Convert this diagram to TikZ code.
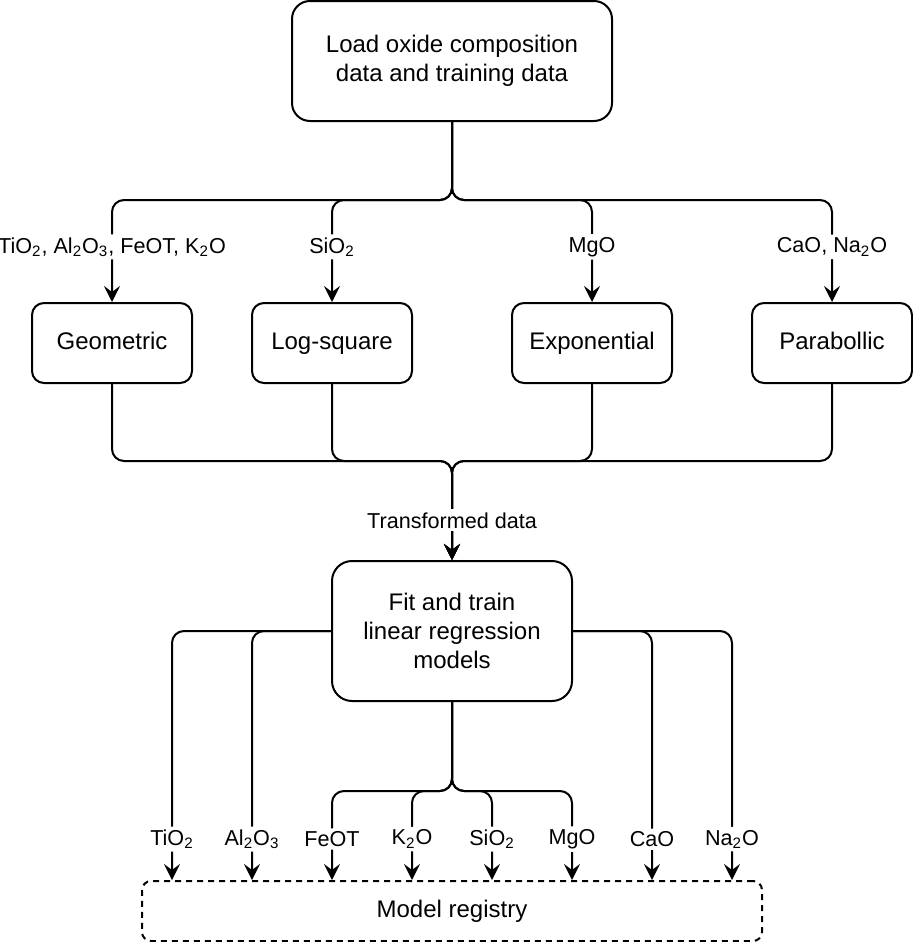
\documentclass[tikz,border=0pt]{standalone}
\usepackage{fontspec}
\setmainfont{Liberation Sans}
\usetikzlibrary{arrows.meta, positioning}

\begin{document}
\begin{tikzpicture}[x=0.5pt, y=-0.5pt, line width=1pt,
        basic/.style    = {draw, align=center, inner sep=0pt, font=\fontsize{12}{14.5}\selectfont},
        root/.style     = {basic, minimum width=160pt, minimum height=60pt, rounded corners=9pt},
        method/.style   = {basic, minimum width=80pt, minimum height=40pt, rounded corners=6pt,
                           text height=8.6pt, text depth=2.6pt},
        fitbox/.style   = {basic, minimum width=120pt, minimum height=70pt, rounded corners=10pt},
        registry/.style = {basic, minimum width=310pt, minimum height=30pt, rounded corners=4.5pt,
                           dash pattern=on 3pt off 2.5pt, text height=8.6pt, text depth=2.6pt},
        oxide/.style    = {fill=white, inner sep=1.5pt, font=\fontsize{10.8}{12.8}\selectfont},
        flow/.style     = {draw, ->, rounded corners=6pt},
        >={Stealth[length=8pt, width=8pt, inset=3pt]}]

    \useasboundingbox (0,0) rectangle (913,942);

    % input data
    \node[root] (load) at (452,61) {Load oxide composition \\ data and training data};

    % the transformations, relatively positioned
    \node[method, below=90pt of load.south, xshift=-170pt] (geo)   {Geometric};
    \node[method, below=90pt of load.south, xshift=-60pt]  (logsq) {Log-square};
    \node[method, below=90pt of load.south, xshift=70pt]   (expo)  {Exponential};
    \node[method, below=90pt of load.south, xshift=190pt]  (para)  {Parabollic};

    % fitting and registry
    \node[fitbox] (fit) at (452,631) {Fit and train \\ linear regression \\ models};
    \node[registry] (reg) at (452,911) {Model registry};

    \coordinate (split1) at (452,200);
    \coordinate (merge)  at (452,461);
    \coordinate (split2) at (452,791);

    % oxides to each transformation
    \foreach \m/\ox in {geo/{TiO\textsubscript{2}, Al\textsubscript{2}O\textsubscript{3}, FeOT, K\textsubscript{2}O},
                        logsq/SiO\textsubscript{2}, expo/MgO, para/{CaO, Na\textsubscript{2}O}}
        \draw[flow] (load.south) -- (split1) -| node[oxide, pos=0.73] {\ox} (\m.north);

    % transformed data into the fit
    \foreach \m in {geo,logsq,expo,para}
        \draw[flow] (\m.south) |- (merge) -- (fit.north);
    \path (merge) -- node[oxide, pos=0.6] {Transformed data} (fit.north);

    % models into the registry
    \foreach \dx/\ox in {-140/TiO\textsubscript{2}, -100/Al\textsubscript{2}O\textsubscript{3}}
        \draw[flow] (fit.west) -| node[oxide, pos=0.918] {\ox} ([xshift=\dx pt]reg.north);

    \foreach \dx/\ox in {100/CaO, 140/Na\textsubscript{2}O}
        \draw[flow] (fit.east) -| node[oxide, pos=0.918] {\ox} ([xshift=\dx pt]reg.north);

    \foreach \dx/\ox in {-60/FeOT, -20/K\textsubscript{2}O, 20/SiO\textsubscript{2}, 60/MgO}
        \draw[flow] (fit.south) -- (split2) -| node[oxide, pos=0.77] {\ox} ([xshift=\dx pt]reg.north);

\end{tikzpicture}
\end{document}
